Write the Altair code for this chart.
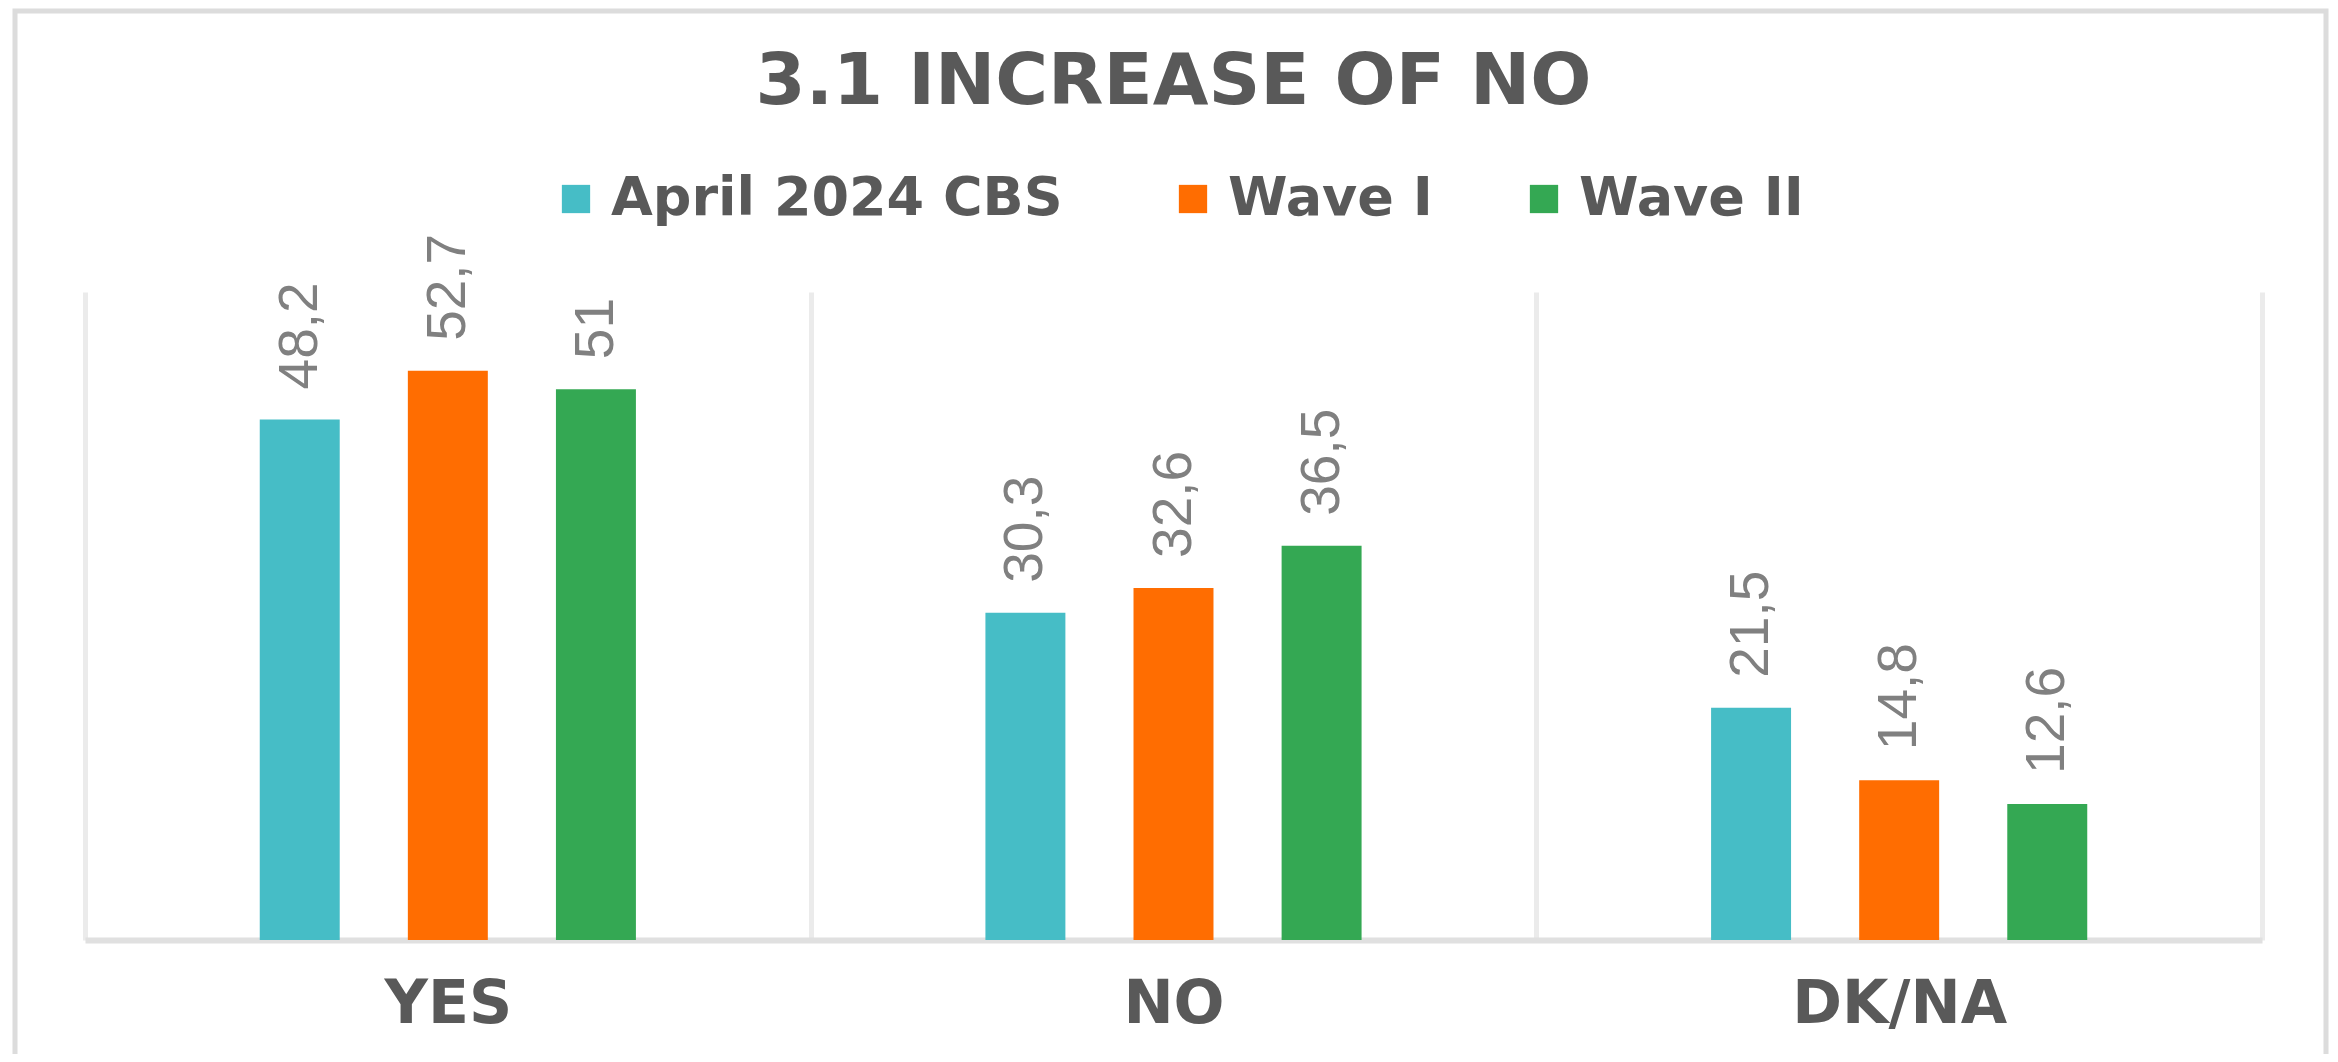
import altair as alt
import pandas as pd

categories = ["YES", "NO", "DK/NA"]
series = ["April  2024 CBS", "Wave I", "Wave II"]
april_2024_cbs = [48.2, 30.3, 21.5]
wave_1 = [52.7, 32.6, 14.8]
wave_2 = [51, 36.5, 12.6]
colors = ["#46BDC6", "#FF6D01", "#34A853"]
# empty slots on either side of each group (no data) to set the bar spacing
offset_slots = ["_gap_left"] + series + ["_gap_right"]

rows = []
for s, vals in zip(series, [april_2024_cbs, wave_1, wave_2]):
    for c, v in zip(categories, vals):
        rows.append({"category": c, "series": s, "value": v,
                     "label": str(v).replace(".", ",")})
df = pd.DataFrame(rows)

x_enc = alt.X(
    "category:N", sort=categories, title=None,
    scale=alt.Scale(paddingInner=0, paddingOuter=0),
    axis=alt.Axis(labelAngle=0, ticks=False, tickBand="extent", grid=True,
                  gridColor="#ebebeb", gridWidth=5, domainColor="#e0e0e0",
                  domainWidth=6, labelFont="DejaVu Sans", labelFontWeight="bold",
                  labelFontSize=60, labelColor="#595959", labelPadding=35,
                  labelLimit=0),
)
xoff = alt.XOffset("series:N",
                   scale=alt.Scale(domain=offset_slots, paddingInner=0.46,
                                   paddingOuter=0.18))
y_enc = alt.Y("value:Q", scale=alt.Scale(domain=[0, 60], nice=False), axis=None)
color = alt.Color(
    "series:N", sort=series,
    scale=alt.Scale(domain=series, range=colors),
    legend=alt.Legend(title=None, orient="none", legendX=464, legendY=-120,
                      direction="horizontal", symbolType="square", symbolSize=800,
                      symbolStrokeWidth=0, labelFont="DejaVu Sans",
                      labelFontWeight="bold", labelFontSize=54, labelColor="#595959",
                      labelOffset=8, columnPadding=84, padding=0, labelLimit=0),
)

base = alt.Chart(df).encode(x=x_enc, xOffset=xoff, y=y_enc)
bars = base.mark_bar().encode(color=color)
labels = base.mark_text(angle=270, align="left", baseline="middle", dx=30,
                        font="Liberation Sans", fontSize=55,
                        color="#808080").encode(text="label:N")

frame = alt.Chart(alt.Data(values=[{"f": 1}])).mark_rect(
    filled=False, stroke="#dcdcdc", strokeWidth=5
).encode(x=alt.value(-70), x2=alt.value(2241), y=alt.value(-281), y2=alt.value(900))

chart = alt.layer(frame, bars, labels).properties(
    width=2177, height=648,
    padding={"left": 77, "top": 284, "right": 68, "bottom": 114},
    autosize=alt.AutoSizeParams(type="none"),
    title=alt.Title("3.1 INCREASE OF NO", font="DejaVu Sans", fontSize=72,
                    fontWeight="bold", color="#595959", anchor="middle", offset=-110),
).configure(background="white", view=alt.ViewConfig(strokeWidth=0))

chart.save("out.html", embed_options={"renderer": "svg", "actions": False})
